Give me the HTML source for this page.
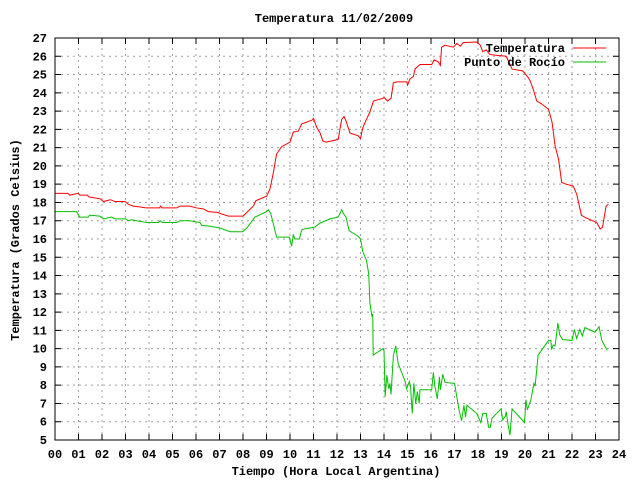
<!DOCTYPE html>
<html><head><meta charset="utf-8"><style>
body{margin:0;background:#fff;}
svg{display:block;font-family:"Liberation Mono",monospace;font-weight:bold;font-size:12px;}
</style></head><body>
<svg id="c" width="640" height="480">
<text x="334" y="22" text-anchor="middle">Temperatura 11/02/2009</text>
<text x="336" y="475" text-anchor="middle">Tiempo (Hora Local Argentina)</text>
<text transform="translate(19,240) rotate(-90)" text-anchor="middle">Temperatura (Grados Celsius)</text>
<g id="grid"></g>
<g id="ticks"></g>
<g id="series"></g>
<rect x="55" y="38" width="564" height="402" fill="none" stroke="#000" stroke-width="1"/>
<g>
<text x="565" y="52" text-anchor="end">Temperatura</text>
<line x1="573" y1="48" x2="606" y2="48" stroke="#ff0000"/>
<text x="565" y="66" text-anchor="end">Punto de Rocío</text>
<line x1="573" y1="62" x2="606" y2="62" stroke="#00c000"/>
</g>
</svg>
<script>
const xTicks=["00","01","02","03","04","05","06","07","08","09","10","11","12","13","14","15","16","17","18","19","20","21","22","23","24"];
const yTicks=[5,6,7,8,9,10,11,12,13,14,15,16,17,18,19,20,21,22,23,24,25,26,27];
const tempHours=[0,0.55,0.63,0.98,1.05,1.37,1.46,1.92,2.06,2.35,2.55,2.98,3.12,3.33,3.62,3.9,4.44,4.5,4.55,5.18,5.32,5.74,6.03,6.31,6.52,6.95,7.02,7.38,8.0,8.44,8.55,9.01,9.15,9.28,9.43,9.64,10.0,10.14,10.35,10.5,10.93,11.0,11.14,11.28,11.4,11.55,12.05,12.2,12.3,12.4,12.55,12.9,13.0,13.1,13.2,13.4,13.55,13.96,14.0,14.15,14.3,14.4,14.55,14.98,15.0,15.1,15.25,15.32,15.53,16.03,16.13,16.3,16.4,16.45,16.6,16.95,17.1,17.25,17.37,17.95,18.1,18.2,18.35,18.5,18.8,19.2,19.45,19.9,20.13,20.22,20.35,20.5,20.7,21.0,21.15,21.28,21.43,21.56,21.75,22.05,22.2,22.4,22.6,23.05,23.2,23.3,23.45,23.55];
const tempValues=[18.5,18.5,18.4,18.5,18.4,18.4,18.3,18.2,18.05,18.15,18.05,18.05,17.9,17.8,17.75,17.7,17.7,17.8,17.7,17.7,17.8,17.8,17.7,17.65,17.5,17.45,17.4,17.25,17.25,17.8,18.1,18.35,18.75,19.55,20.65,21.05,21.3,21.85,21.9,22.3,22.5,22.6,22.1,21.8,21.36,21.3,21.45,22.55,22.7,22.4,21.8,21.65,21.5,22.1,22.4,22.95,23.55,23.7,23.75,23.55,23.7,24.55,24.6,24.6,24.4,24.75,24.9,25.3,25.55,25.55,25.8,25.7,25.5,26.5,26.6,26.5,26.7,26.55,26.75,26.78,26.6,26.25,26.35,26.1,26.05,26.0,25.3,25.2,24.85,24.65,24.2,23.55,23.4,23.1,22.4,21.1,20.35,19.1,19.0,18.9,18.45,17.3,17.15,16.9,16.55,16.65,17.8,17.9];
const dewHours=[0,0.92,1.05,1.4,1.48,1.9,2.06,2.41,2.55,3.02,3.12,3.26,3.47,3.9,4.4,4.47,4.57,5.18,5.32,5.74,6.17,6.24,6.6,7.02,7.45,7.99,8.16,8.51,9.01,9.08,9.18,9.43,9.97,10.07,10.14,10.2,10.4,10.5,10.6,11.06,11.2,11.28,11.7,12.05,12.2,12.27,12.38,12.52,12.9,13.0,13.1,13.25,13.35,13.4,13.48,13.52,13.54,13.96,14.0,14.05,14.12,14.2,14.25,14.3,14.4,14.5,14.6,14.9,14.96,15.08,15.13,15.2,15.27,15.35,15.42,15.5,15.53,16.03,16.1,16.17,16.27,16.36,16.4,16.5,16.6,17.0,17.2,17.3,17.4,17.47,17.53,17.95,18.12,18.2,18.35,18.45,18.52,18.6,18.98,19.05,19.16,19.2,19.28,19.36,19.45,19.98,20.04,20.1,20.25,20.38,20.43,20.56,21.0,21.1,21.13,21.2,21.28,21.4,21.48,21.6,22.0,22.1,22.2,22.33,22.44,22.55,22.98,23.15,23.27,23.5];
const dewValues=[17.5,17.5,17.2,17.2,17.3,17.25,17.1,17.2,17.1,17.1,17.0,17.05,17.0,16.9,16.9,17.0,16.9,16.9,17.0,17.0,16.9,16.75,16.7,16.6,16.4,16.4,16.6,17.2,17.5,17.6,17.4,16.1,16.1,15.6,16.25,16.0,16.0,16.5,16.55,16.65,16.8,16.87,17.1,17.2,17.6,17.4,17.2,16.45,16.15,16.0,15.3,14.85,14.1,12.5,11.8,11.9,9.65,10.0,9.9,7.37,8.55,7.8,8.1,7.5,9.65,10.15,9.2,8.2,7.8,8.2,7.9,6.45,8.1,7.0,7.65,7.0,7.75,7.75,8.7,7.9,7.25,8.45,7.75,8.6,8.15,8.1,6.6,6.05,6.9,6.25,6.9,6.45,5.95,6.45,6.45,5.7,5.7,6.2,6.7,6.1,6.3,6.55,5.85,5.27,6.7,5.95,7.2,6.65,7.2,8.1,7.95,9.65,10.45,10.45,9.95,10.2,10.15,11.4,10.75,10.5,10.45,11.05,10.55,11.05,10.7,11.15,10.9,11.2,10.45,9.9];
const X0=55,X1=619,Y0=440,Y1=38;
const xs=h=>X0+(X1-X0)*h/24;
const ys=v=>Y0-(Y0-Y1)*(v-5)/22;
const NS="http://www.w3.org/2000/svg";
const grid=document.getElementById('grid'),ticks=document.getElementById('ticks'),series=document.getElementById('series');
function mk(tag,attrs,parent){const e=document.createElementNS(NS,tag);for(const k in attrs)e.setAttribute(k,attrs[k]);parent.appendChild(e);return e;}
xTicks.forEach((t,i)=>{
  const x=xs(i);
  if(i>0&&i<24){const g=mk('line',{x1:x,y1:Y0,x2:x,y2:Y1,stroke:'#a0a0a0','stroke-dasharray':'2,4'},grid);
  
  
  const tk=mk('path',{d:`M${x},${Y0}v-6M${x},${Y1}v6`,stroke:'#000'},ticks);
  
  }
  const l=mk('text',{x:x,y:458,'text-anchor':'middle'},ticks);l.textContent=t;
  
  
});
yTicks.forEach(v=>{
  const y=ys(v);
  if(v>5&&v<27){const g=mk('line',{x1:X0,y1:y,x2:X1,y2:y,stroke:'#a0a0a0','stroke-dasharray':'2,4'},grid);
  
  
  const tk=mk('path',{d:`M${X0},${y}h6M${X1},${y}h-6`,stroke:'#000'},ticks);
  
  }
  const l=mk('text',{x:47,y:y+4,'text-anchor':'end'},ticks);l.textContent=v;
  
  
});
function line(hs,vs,color,name){
  const p=mk('polyline',{points:hs.map((h,i)=>xs(h)+','+ys(vs[i])).join(' '),fill:'none',stroke:color,'stroke-width':1},series);
  
  
}
line(tempHours,tempValues,'#ff0000','temperatura-line');
line(dewHours,dewValues,'#00c000','punto-de-rocio-line');
</script>
</body></html>
